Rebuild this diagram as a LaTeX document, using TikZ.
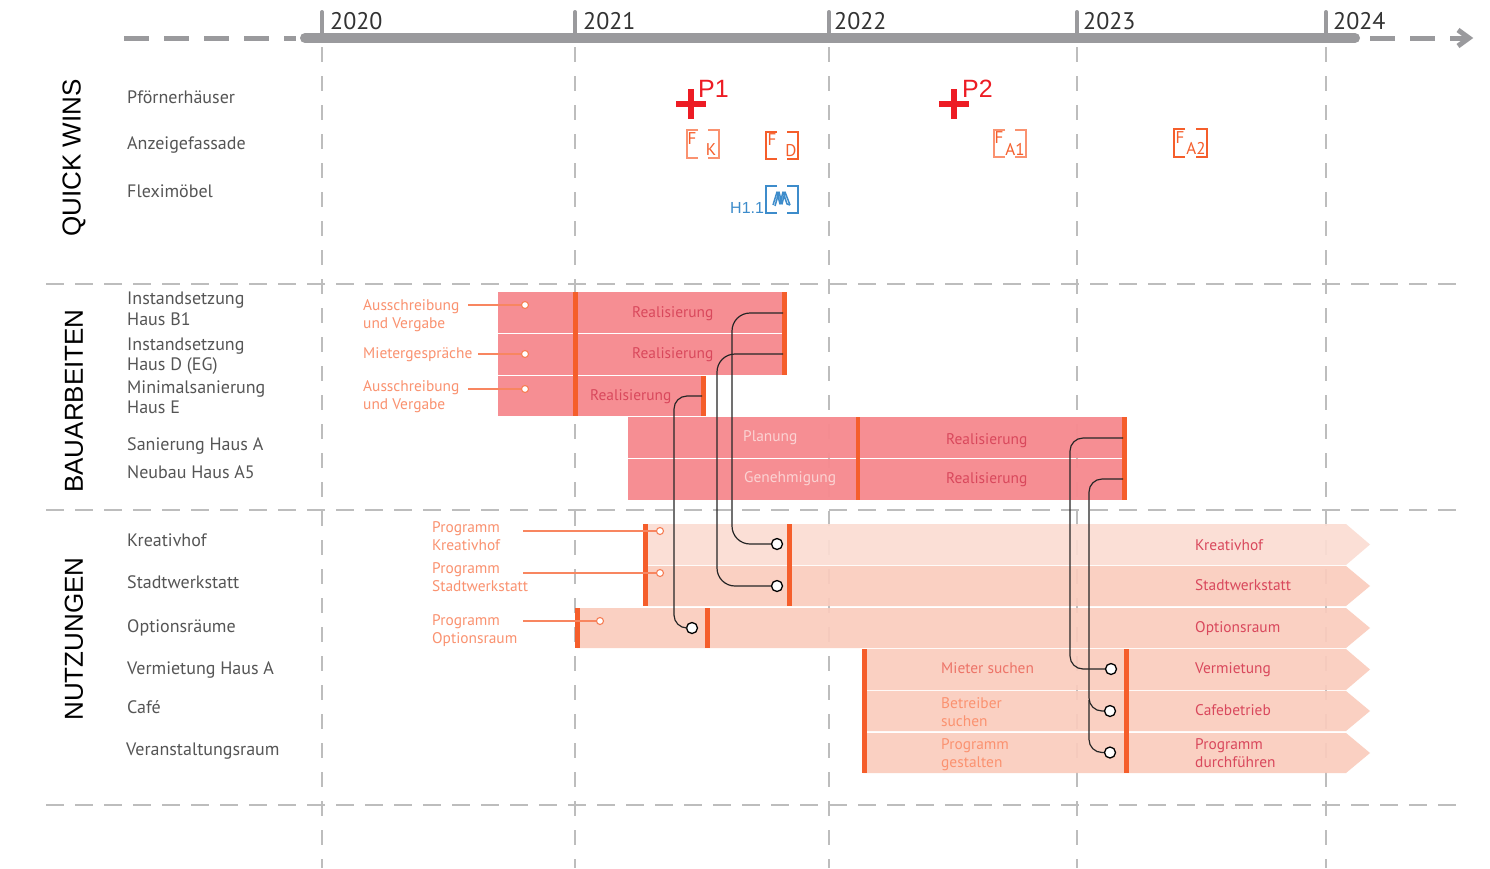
\documentclass[tikz,border=0pt]{standalone}
\usepackage{fontspec}
\setmainfont{PT Sans}
\newfontfamily\arialf{Liberation Sans}
\usetikzlibrary{calc}
\definecolor{axisgray}{HTML}{9A9A9D}
\definecolor{gridgray}{HTML}{BDBDBD}
\definecolor{labelgray}{HTML}{555555}
\definecolor{barred}{HTML}{F68B90}
\definecolor{barpale}{HTML}{FBDDD3}
\definecolor{barpeach}{HTML}{FACCBD}
\definecolor{tickorange}{HTML}{F55E2B}
\definecolor{softorange}{HTML}{FA9270}
\definecolor{deepred}{HTML}{D9485C}
\definecolor{lightpink}{HTML}{FBD3D3}
\definecolor{plusred}{HTML}{ED1C24}
\definecolor{iconblue}{HTML}{3D8CCB}
\tikzset{
  x=1pt,y=-1pt,
  yearlabel/.style={anchor=west,inner sep=0pt,font=\fontsize{24}{24}\selectfont,text=black!80},
  rowlabel/.style={anchor=west,inner sep=0pt,align=left,font=\fontsize{18}{20.5}\selectfont,text=labelgray},
  sectionlabel/.style={rotate=90,inner sep=0pt,font=\arialf\fontsize{26}{26}\selectfont,text=black},
  soft/.style={anchor=west,inner sep=0pt,align=left,font=\fontsize{15.4}{18}\selectfont,text=softorange},
  deep/.style={anchor=west,inner sep=0pt,align=left,font=\fontsize{15.4}{18}\selectfont,text=deepred},
  pale/.style={anchor=west,inner sep=0pt,align=left,font=\fontsize{15.4}{18}\selectfont,text=lightpink},
  vgrid/.style={draw=gridgray,line width=1.5pt,dash pattern=on 14.5pt off 14.5pt},
  hgrid/.style={draw=gridgray,line width=1.5pt,dash pattern=on 18pt off 11pt},
  axisline/.style={draw=axisgray,line width=5pt},
  yeartick/.style={draw=axisgray,line width=4pt,line cap=round},
  lead/.style={draw=tickorange!75!white,line width=2pt},
  smalldot/.style={circle,draw=tickorange!80!white,fill=white,line width=1.1pt,inner sep=0pt,minimum size=7pt},
  bigdot/.style={circle,draw=black,fill=white,line width=1.3pt,inner sep=0pt,minimum size=11pt},
  link/.style={draw=black!85,line width=1.2pt,rounded corners=18pt},
  bracket/.style={line width=1.2pt},
  brtext/.style={inner sep=0pt,font=\fontsize{17}{17}\selectfont,text=tickorange},
  redmark/.style={inner sep=0pt,anchor=west,font=\arialf\fontsize{25}{25}\selectfont,text=plusred},
}
\newcommand{\bracketpair}[5]{% x0,y0,x1,y1,color
  \draw[bracket,#5] (#1+11,#2) -- (#1,#2) -- (#1,#4) -- (#1+11,#4);
  \draw[bracket,#5] (#3-11,#2) -- (#3,#2) -- (#3,#4) -- (#3-11,#4);
}
\begin{document}
\begin{tikzpicture}
\useasboundingbox (0,0) rectangle (1490,868);
\fill[white] (0,0) rectangle (1490,868);

% grid
\foreach \gx in {322,575,829,1077,1326} \draw[vgrid] (\gx,47) -- (\gx,868);
\foreach \gy in {284,510,805} \draw[hgrid] (46,\gy) -- (1456,\gy);

% timeline
\draw[axisline,dash pattern=on 25pt off 15pt] (124,38) -- (296,38);
\draw[draw=axisgray,line width=10pt,line cap=round] (305,38) -- (1355,38);
\draw[axisline,dash pattern=on 25pt off 15pt] (1370,38) -- (1450,38);
\draw[draw=axisgray,line width=5pt] (1458,30) -- (1469,38) -- (1458,46);
\draw[axisline] (1450,38) -- (1467,38);
\foreach \gx in {322,575,829,1077,1326} \draw[yeartick] (\gx,12) -- (\gx,38);
\node[yearlabel] (y20) at (330,21) {2020};
\node[yearlabel] (y21) at (583,21) {2021};
\node[yearlabel] (y22) at (834,21.5) {2022};
\node[yearlabel] (y23) at (1083,21) {2023};
\node[yearlabel] (y24) at (1333,21.5) {2024};

% section labels
\node[sectionlabel] (s1) at (74,158) {QUICK WINS};
\node[sectionlabel] (s2) at (74,401) {BAUARBEITEN};
\node[sectionlabel] (s3) at (74,639) {NUTZUNGEN};

% row labels
\node[rowlabel] (r1) at (127,97) {Pförnerhäuser};
\node[rowlabel] (r2) at (127,145) {Anzeigefassade};
\node[rowlabel] (r3) at (127,191) {Fleximöbel};
\node[rowlabel] (r4) at (127,309) {Instandsetzung\\Haus B1};
\node[rowlabel] (r5) at (127,356) {Instandsetzung\\Haus D (EG)};
\node[rowlabel] (r6) at (127,397) {Minimalsanierung\\Haus E};
\node[rowlabel] (r7) at (127,446) {Sanierung Haus A};
\node[rowlabel] (r8) at (127,472) {Neubau Haus A5};
\node[rowlabel] (r9) at (127,540) {Kreativhof};
\node[rowlabel] (r10) at (127,582) {Stadtwerkstatt};
\node[rowlabel] (r11) at (127,628) {Optionsräume};
\node[rowlabel] (r12) at (127,670) {Vermietung Haus A};
\node[rowlabel] (r13) at (127,707) {Café};
\node[rowlabel] (r14) at (126,751) {Veranstaltungsraum};

% quick win marks
\foreach \px/\nm/\lx in {691/P1/698,954/P2/962}{
  \draw[plusred,line width=5.5pt] (\px-15,104) -- (\px+15,104) (\px,89) -- (\px,119);
  \node[redmark] at (\lx,89) {\nm};
}
\bracketpair{687}{130}{719}{158}{softorange}
\node[brtext] (fk1) at (692,139) {F};
\node[brtext] (fk2) at (711,150) {K};
\bracketpair{766}{132}{798}{159}{tickorange}
\node[brtext] (fd1) at (772,140) {F};
\node[brtext] (fd2) at (791,151) {D};
\bracketpair{994}{130}{1026}{157}{softorange}
\node[brtext] (fa1) at (999,138) {F};
\node[brtext] (fa2) at (1015,149) {A1};
\bracketpair{1174}{129}{1207}{157}{tickorange}
\node[brtext] (fb1) at (1180,138) {F};
\node[brtext] (fb2) at (1196,148) {A2};
\bracketpair{766}{186}{798}{213}{iconblue}
\draw[iconblue,line width=1.5pt,line join=round] (773,205) -- (777,192) -- (780,204) -- (783,192) -- (787,204) -- (790,205) (775,206) -- (779,192) -- (782,204) -- (785,192) -- (790,205);
\node[inner sep=0pt,anchor=west,font=\arialf\fontsize{16}{16}\selectfont,text=iconblue] (h11) at (730,208) {H1.1};

% construction bars
\fill[barred,opacity=.97] (498,292) rectangle (787,333);
\fill[barred,opacity=.97] (498,334) rectangle (787,375);
\fill[barred,opacity=.97] (498,376) rectangle (706,416);
\fill[barred,opacity=.97] (628,417) rectangle (1127,458);
\fill[barred,opacity=.97] (628,459) rectangle (1127,500);
\fill[tickorange] (573,292) rectangle (578,416);
\fill[tickorange] (782,292) rectangle (787,375);
\fill[tickorange] (701,376) rectangle (706,416);
\fill[tickorange] (856,417) rectangle (860,500);
\fill[tickorange] (1122,417) rectangle (1127,500);

% use bars
\newcommand{\usebar}[5]{% x0,y0,y1,color,name
  \fill[#4,opacity=.92] (#1,#2) -- (1346,#2) -- (1370,{(#2+#3)/2}) -- (1346,#3) -- (#1,#3) -- cycle;
}
\usebar{648}{524}{565}{barpale}{}
\usebar{648}{566}{606}{barpeach}{}
\usebar{577}{608}{648}{barpeach}{}
\usebar{863}{649}{690}{barpeach}{}
\usebar{863}{691}{731}{barpeach}{}
\usebar{863}{733}{773}{barpeach}{}
\fill[tickorange] (643,524) rectangle (648,606);
\fill[tickorange] (787,524) rectangle (792,606);
\fill[tickorange] (575,608) rectangle (580,648);
\fill[tickorange] (705,608) rectangle (710,648);
\fill[tickorange] (862,649) rectangle (867,773);
\fill[tickorange] (1124,649) rectangle (1129,773);

% bar text
\node[deep] (t1) at (632,314) {Realisierung};
\node[deep] (t2) at (632,355) {Realisierung};
\node[deep] (t3) at (590,397) {Realisierung};
\node[pale] (t4) at (743,438) {Planung};
\node[pale] (t5) at (744,479) {Genehmigung};
\node[deep] (t6) at (946,441) {Realisierung};
\node[deep] (t7) at (946,480) {Realisierung};
\node[deep] (t8) at (1195,545) {Kreativhof};
\node[deep] (t9) at (1195,585) {Stadtwerkstatt};
\node[deep] (t10) at (1195,629) {Optionsraum};
\node[deep] (t11) at (1195,670) {Vermietung};
\node[deep] (t12) at (1195,710) {Cafebetrieb};
\node[deep] (t13) at (1195,753) {Programm\\durchführen};
\node[soft,text=deepred!40!softorange] (t14) at (941,668) {Mieter suchen};
\node[soft] (t15) at (941,712) {Betreiber\\suchen};
\node[soft] (t16) at (941,755) {Programm\\gestalten};

% lead labels
\node[soft] (l1) at (363,316) {Ausschreibung\\und Vergabe};
\node[soft] (l2) at (363,355) {Mietergespräche};
\node[soft] (l3) at (363,397) {Ausschreibung\\und Vergabe};
\node[soft] (l4) at (432,536) {Programm\\Kreativhof};
\node[soft] (l5) at (432,577) {Programm\\Stadtwerkstatt};
\node[soft] (l6) at (432,631) {Programm\\Optionsraum};
\coordinate (a1) at (468,305);
\coordinate (a2) at (478,354);
\coordinate (a3) at (468,389);
\coordinate (a4) at (523,531);
\coordinate (a5) at (523,573);
\coordinate (a6) at (523,621);
\node[smalldot] (d1) at (525,305) {};
\node[smalldot] (d2) at (525,354) {};
\node[smalldot] (d3) at (525,389) {};
\node[smalldot] (d4) at (660,531) {};
\node[smalldot] (d5) at (660,573) {};
\node[smalldot] (d6) at (600,621) {};
\foreach \i in {1,...,6} \draw[lead] (a\i) -- (d\i);

% links
\coordinate (b1) at (783,313);
\coordinate (b2) at (783,354);
\coordinate (b3) at (702,396);
\coordinate (b4) at (1123,438);
\coordinate (b5) at (1123,479);
\node[bigdot] (c1) at (777,544) {};
\node[bigdot] (c2) at (777,586) {};
\node[bigdot] (c3) at (692,628) {};
\node[bigdot] (c4) at (1111,669) {};
\node[bigdot] (c5) at (1110,711) {};
\node[bigdot] (c6) at (1110,752.5) {};
\draw[link] (b1) -- (732,313) -- (732,544) -- (c1);
\draw[link] (b2) -- (717,354) -- (717,586) -- (c2);
\draw[link,rounded corners=13pt] (b3) -- (674,396) -- (674,628) -- (c3);
\draw[link,rounded corners=13pt] (b4) -- (1070,438) -- (1070,669) -- (c4);
\draw[link,rounded corners=13pt] (b5) -- (1089,479) -- (1089,711) -- (c5);
\draw[link,rounded corners=13pt] (1089,700) -- (1089,752.5) -- (c6);
\end{tikzpicture}
\end{document}
